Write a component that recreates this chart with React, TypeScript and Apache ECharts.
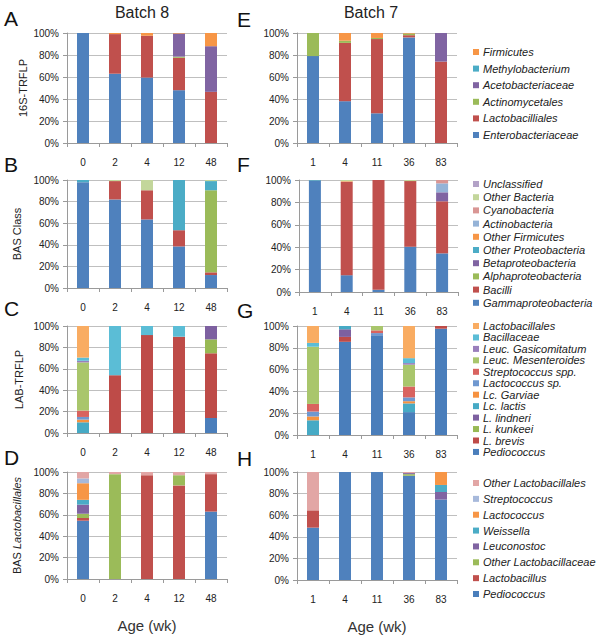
import React, { useEffect, useRef } from "react";
import * as echarts from "echarts";

// ---------- categories ----------
const batch8Ages = ["0", "2", "4", "12", "48"];
const batch7Ages = ["1", "4", "11", "36", "83"];

// ---------- taxa (bottom of stack -> top) ----------
const taxa16S = ["Enterobacteriaceae", "Lactobacilliales", "Actinomycetales", "Acetobacteriaceae", "Methylobacterium", "Firmicutes"];
const colors16S = ["#4F81BD", "#C0504D", "#9BBB59", "#8064A2", "#4BACC6", "#F79646"];

const taxaClass = ["Gammaproteobacteria", "Bacilli", "Alphaproteobacteria", "Betaproteobacteria", "Other Proteobacteria", "Other Firmicutes", "Actinobacteria", "Cyanobacteria", "Other Bacteria", "Unclassified"];
const colorsClass = ["#4F81BD", "#C0504D", "#9BBB59", "#8064A2", "#4BACC6", "#F79646", "#95B3D7", "#D99694", "#C3D69B", "#B3A2C7"];

const taxaLAB = ["Pediococcus", "L. brevis", "L. kunkeei", "L. lindneri", "Lc. lactis", "Lc. Garviae", "Lactococcus sp.", "Streptococcus spp.", "Leuc. Mesenteroides", "Leuc. Gasicomitatum", "Bacillaceae", "Lactobacillales"];
const colorsLAB = ["#4A7EBB", "#BE4B48", "#98B954", "#7D60A0", "#46AAC5", "#F69240", "#6F98D0", "#D9635F", "#A9C66C", "#9A7FBC", "#5BBDD6", "#F9AC62"];

const taxaLacto = ["Pediococcus", "Lactobacillus", "Other Lactobacillaceae", "Leuconostoc", "Weissella", "Lactococcus", "Streptococcus", "Other Lactobacillales"];
const colorsLacto = ["#4F81BD", "#C0504D", "#9BBB59", "#8064A2", "#4BACC6", "#F79646", "#A7B9DB", "#E2A6A5"];

// ---------- values (% per category, one row per taxon, bottom -> top) ----------
const panelA = [
  [100, 63, 59.5, 48, 0],
  [0, 36, 38, 29.5, 46.5],
  [0, 0, 0, 1, 0],
  [0, 0, 0, 21, 41.5],
  [0, 0, 0, 0, 0],
  [0, 1, 2.5, 0.5, 12],
];
const panelE = [
  [79, 38, 27, 96, 0],
  [0, 53, 67.5, 2, 74],
  [21, 2, 1, 1.5, 0],
  [0, 0, 0, 0, 26],
  [0, 0, 0, 0, 0],
  [0, 7, 4.5, 0.5, 0],
];
const panelB = [
  [98, 82, 63.5, 38.5, 12],
  [0, 17, 27, 15, 2.5],
  [0, 0, 0, 0, 76],
  [0, 0, 0, 0, 0],
  [2, 0, 0, 46.5, 8.5],
  [0, 0, 0, 0, 0],
  [0, 0, 0, 0, 0],
  [0, 0, 0, 0, 0],
  [0, 1, 9.5, 0, 1],
  [0, 0, 0, 0, 0],
];
const panelF = [
  [99.5, 15, 2, 40.5, 34.5],
  [0, 83.5, 98, 58.5, 46.5],
  [0, 0, 0, 0, 0],
  [0, 0, 0, 0, 8],
  [0.5, 0, 0, 0, 0],
  [0, 0.5, 0, 0, 0],
  [0, 0, 0, 0, 8],
  [0, 0, 0, 0, 3],
  [0, 1, 0, 1, 0],
  [0, 0, 0, 0, 0],
];
const panelC = [
  [0, 0, 0, 0, 14],
  [0, 54, 91.5, 90, 60.5],
  [0, 0, 0, 0, 13],
  [0, 0, 0, 0, 12.5],
  [10, 0, 0, 0, 0],
  [2.5, 0, 0, 0, 0],
  [2.5, 0, 0, 0, 0],
  [6, 0, 0, 0, 0],
  [45, 0, 0, 0, 0],
  [1.5, 0, 0, 0, 0],
  [3, 46, 8.5, 10, 0],
  [29.5, 0, 0, 0, 0],
];
const panelG = [
  [0, 85.5, 91.5, 21, 97.5],
  [0, 4.5, 0, 0, 2.5],
  [0, 0, 0, 0, 0],
  [0, 7, 0, 0, 0],
  [13.5, 3, 0, 8, 0],
  [3.5, 0, 0, 2, 0],
  [4.5, 0, 2, 3.5, 0],
  [7, 0, 2.5, 10, 0],
  [52.5, 0, 4, 20, 0],
  [0, 0, 0, 1.5, 0],
  [3.5, 0, 0, 4.5, 0],
  [15.5, 0, 0, 29.5, 0],
];
const panelD = [
  [54.5, 0, 0, 0, 63],
  [2.5, 0, 97, 87.5, 35],
  [4, 98, 0, 9.5, 0],
  [8.5, 0, 0, 0, 0],
  [4.5, 0, 0, 0, 0],
  [15.5, 0, 0, 0, 0],
  [4.5, 0, 0, 0, 0],
  [6, 2, 3, 3, 2],
];
const panelH = [
  [48.5, 100, 100, 96.5, 74.5],
  [16, 0, 0, 0, 0],
  [0, 0, 0, 1.5, 0],
  [0, 0, 0, 1, 7],
  [0, 0, 0, 0, 6.5],
  [0, 0, 0, 0, 12],
  [0, 0, 0, 0, 0],
  [35.5, 0, 0, 1, 0],
];

const FONT = "Liberation Sans, Arial, sans-serif";
const TXT = "#222";
const GRID_C = "#BFBFBF";
const AXIS_C = "#9A9A9A";

const panels = [
  { letter: "A", cats: batch8Ages, taxa: taxa16S, colors: colors16S, values: panelA, grid: { left: 67, top: 33, width: 160, height: 110 }, yName: "16S-TRFLP", nameGap: 39 },
  { letter: "E", cats: batch7Ages, taxa: taxa16S, colors: colors16S, values: panelE, grid: { left: 297, top: 33, width: 160, height: 110 } },
  { letter: "B", cats: batch8Ages, taxa: taxaClass, colors: colorsClass, values: panelB, grid: { left: 67, top: 180, width: 160, height: 108 }, yName: "BAS Class", nameGap: 45 },
  { letter: "F", cats: batch7Ages, taxa: taxaClass, colors: colorsClass, values: panelF, grid: { left: 299, top: 180, width: 159, height: 112 } },
  { letter: "C", cats: batch8Ages, taxa: taxaLAB, colors: colorsLAB, values: panelC, grid: { left: 67, top: 326, width: 160, height: 107 }, yName: "LAB-TRFLP", nameGap: 43 },
  { letter: "G", cats: batch7Ages, taxa: taxaLAB, colors: colorsLAB, values: panelG, grid: { left: 297, top: 326, width: 160, height: 109 } },
  { letter: "D", cats: batch8Ages, taxa: taxaLacto, colors: colorsLacto, values: panelD, grid: { left: 67, top: 472, width: 160, height: 107 }, yName: "{a|BAS }{b|Lactobacillales}", nameGap: 45, xName: "Age (wk)" },
  { letter: "H", cats: batch7Ages, taxa: taxaLacto, colors: colorsLacto, values: panelH, grid: { left: 297, top: 472, width: 160, height: 108 }, xName: "Age (wk)" },
];

const letterPos = [
  [4, 18], [237, 19], [4, 164], [237, 164], [4, 308], [237, 310], [4, 457], [237, 458],
];

const legends = [
  { taxa: taxa16S, top: 46, gap: 4.6, lh: 12 },
  { taxa: taxaClass, top: 178, gap: 1.2, lh: 12 },
  { taxa: taxaLAB, top: 320.5, gap: 0.45, lh: 11 },
  { taxa: taxaLacto, top: 477, gap: 3.86, lh: 12 },
];

export default function App() {
  const ref = useRef<HTMLDivElement>(null);
  useEffect(() => {
    document.body.style.margin = "0";
    if (!ref.current) return;
    const chart = echarts.init(ref.current, null, { renderer: "svg" });

    const grid = panels.map((p) => ({ ...p.grid, containLabel: false }));
    const xAxis = panels.map((p, i) => ({
      type: "category",
      gridIndex: i,
      data: p.cats,
      boundaryGap: true,
      axisLine: { show: true, lineStyle: { color: AXIS_C, width: 1 } },
      axisTick: { show: true, length: 4, lineStyle: { color: AXIS_C } },
      axisLabel: { color: TXT, fontSize: 10, fontFamily: FONT, margin: 14 },
      name: p.xName,
      nameLocation: "middle",
      nameGap: 39,
      nameTextStyle: { color: "#333", fontSize: 15, fontFamily: FONT },
    }));
    const yAxis = panels.map((p, i) => ({
      type: "value",
      gridIndex: i,
      min: 0,
      max: 100,
      interval: 20,
      axisLine: { show: true, lineStyle: { color: AXIS_C, width: 1 } },
      axisTick: { show: true, length: 4, lineStyle: { color: AXIS_C } },
      axisLabel: { color: TXT, fontSize: 10, fontFamily: FONT, margin: 8, formatter: "{value}%" },
      splitLine: { show: true, lineStyle: { color: GRID_C, width: 1 } },
      name: p.yName,
      nameLocation: "middle",
      nameGap: p.nameGap,
      nameRotate: 90,
      nameTextStyle: {
        color: TXT,
        fontSize: 11,
        fontFamily: FONT,
        rich: {
          a: { color: TXT, fontSize: 11, fontFamily: FONT },
          b: { color: TXT, fontSize: 11, fontFamily: FONT, fontStyle: "italic" },
        },
      },
    }));

    const series: any[] = [];
    panels.forEach((p, i) => {
      p.taxa.forEach((name, j) => {
        series.push({
          type: "bar",
          name,
          stack: "panel" + i,
          xAxisIndex: i,
          yAxisIndex: i,
          barWidth: 12,
          data: p.values[j],
          itemStyle: { color: p.colors[j] },
          emphasis: { disabled: true },
        });
      });
    });

    const legend = legends.map((l) => ({
      orient: "vertical",
      left: 473,
      top: l.top,
      padding: 0,
      itemGap: l.gap,
      itemWidth: 6,
      itemHeight: 6,
      icon: "rect",
      selectedMode: false,
      data: [...l.taxa].reverse(),
      textStyle: { color: TXT, fontSize: 11, fontFamily: FONT, fontStyle: "italic", lineHeight: l.lh, padding: [0, 0, 0, -1] },
    }));

    const graphic: any[] = [
      { type: "text", x: 142, y: 12, style: { text: "Batch 8", fill: TXT, font: `16px ${FONT}`, textAlign: "center", textVerticalAlign: "middle" } },
      { type: "text", x: 371, y: 12, style: { text: "Batch 7", fill: TXT, font: `16px ${FONT}`, textAlign: "center", textVerticalAlign: "middle" } },
      ...panels.map((p, i) => ({
        type: "text",
        x: letterPos[i][0],
        y: letterPos[i][1],
        style: { text: p.letter, fill: "#111", font: `21px ${FONT}`, textAlign: "left", textVerticalAlign: "middle" },
      })),
    ];

    chart.setOption({
      animation: false,
      backgroundColor: "#ffffff",
      textStyle: { fontFamily: FONT },
      grid,
      xAxis,
      yAxis,
      series,
      legend,
      graphic,
    });
    return () => chart.dispose();
  }, []);
  return <div ref={ref} style={{ width: 603, height: 637 }} />;
}
